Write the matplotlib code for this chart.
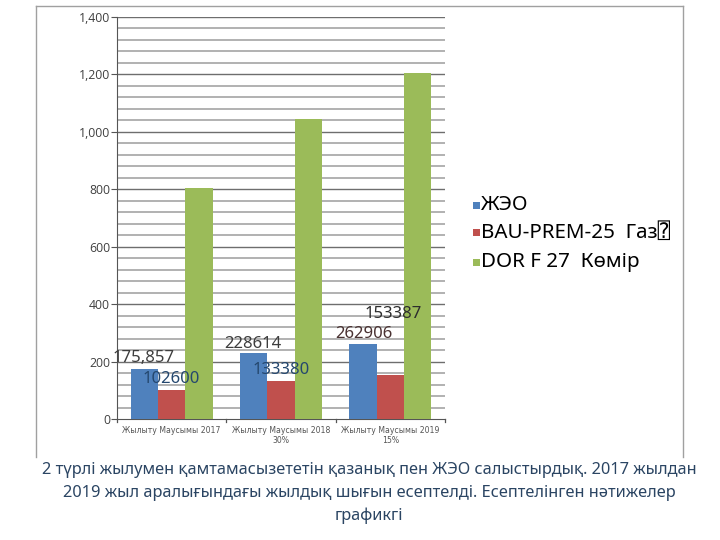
import matplotlib
matplotlib.use("Agg")
import matplotlib.pyplot as plt
import numpy as np

categories = ["Жылыту Маусымы 2017", "Жылыту Маусымы 2018\n30%", "Жылыту Маусымы 2019\n15%"]
series_names = ["ЖЭО", "BAU-PREM-25  Газ\u2370", "DOR F 27  Көмір"]
zheo = [175.857, 228.614, 262.906]
gas = [102.6, 133.38, 153.387]
coal = [805, 1045, 1205]

label_texts = ["175,857", "102600", "228614", "133380", "262906", "153387"]
label_vals = [212, 139, 261, 171, 296, 366]

BLUE = "#4F81BD"
RED = "#C0504D"
GREEN = "#9BBB59"
TEXT = "#404040"
CAPTION = "#2B4563"
NARROW = ["Liberation Sans Narrow", "Noto Sans", "DejaVu Sans"]

fig = plt.figure(figsize=(7.2, 5.4), dpi=100, facecolor="white")
ax = fig.add_axes([0.1625, 0.224, 0.4555, 0.7445])

x = np.arange(len(categories))
w = 0.25
colors = [BLUE, RED, GREEN]
for i, (vals, col) in enumerate(zip([zheo, gas, coal], colors)):
    ax.bar(x + (i - 1) * w, vals, width=w, color=col, zorder=3, label=series_names[i])

ax.set_xlim(-0.5, 2.5)
ax.set_ylim(0, 1400)

# gridlines: major every 200, minor every 40
for v in range(40, 1401, 40):
    if v % 200 == 0:
        ax.axhline(v, color="#6e6e6e", lw=1.0, zorder=1)
    else:
        ax.axhline(v, color="#ababab", lw=1.3, zorder=1)

ax.set_yticks(range(0, 1401, 200))
ax.set_yticklabels([f"{v:,}" for v in range(0, 1401, 200)], fontsize=8.8, color=TEXT,
                   family=["Open Sans", "DejaVu Sans"])
ax.tick_params(axis="y", length=4, color="#555555", pad=1)

ax.set_xticks(x)
ax.set_xticklabels(categories, fontsize=5.6, color="#555555", family=["DejaVu Sans"])
ax.tick_params(axis="x", length=0, pad=5)
for b in [-0.5, 0.5, 1.5, 2.5]:
    ax.plot([b, b], [0, -10], color="#555555", lw=0.9, clip_on=False, zorder=4)

for s in ["top", "right"]:
    ax.spines[s].set_visible(False)
ax.spines["left"].set_color("#555555")
ax.spines["bottom"].set_color("#555555")

# value labels
label_x = [0 - 0.26, 0 + 0.0, 1 - 0.26, 1 + 0.0, 2 - 0.24, 2 + 0.03]
label_colors = ["#3d3d3d", "#24476e", "#3d3d3d", "#24476e", "#4a3232", "#2d2d2d"]
for tx, lx, lv, lc in zip(label_texts, label_x, label_vals, label_colors):
    ax.text(lx, lv, tx, ha="center", va="center", fontsize=12, color=lc,
            family=NARROW, zorder=5)

# legend
leg_y = [205, 233, 262]
for name, col, yy in zip(series_names, colors, leg_y):
    fig.patches.append(plt.Rectangle((473 / 720, 1 - (yy + 3.5) / 540), 7 / 720, 7 / 540,
                                     transform=fig.transFigure, facecolor=col,
                                     edgecolor="none"))
    fig.text(481 / 720, 1 - yy / 540, name, fontsize=14.8, color="black", va="center",
             ha="left", family=NARROW + ["DejaVu Sans Mono"])

# frame lines
fig.add_artist(plt.Line2D([36 / 720, 683 / 720], [1 - 6 / 540, 1 - 6 / 540],
                          transform=fig.transFigure, color="#a0a0a0", lw=1))
fig.add_artist(plt.Line2D([36 / 720, 36 / 720], [1 - 6 / 540, 1 - 457 / 540],
                          transform=fig.transFigure, color="#a0a0a0", lw=1))
fig.add_artist(plt.Line2D([683 / 720, 683 / 720], [1 - 6 / 540, 1 - 457 / 540],
                          transform=fig.transFigure, color="#a0a0a0", lw=1))

caption = ["2 түрлі жылумен қамтамасызететін қазанық пен ЖЭО салыстырдық. 2017 жылдан",
           "2019 жыл аралығындағы жылдық шығын есептелді. Есептелінген нәтижелер",
           "графикгі"]
for i, line in enumerate(caption):
    fig.text(369 / 720, 1 - (470 + i * 23) / 540, line, ha="center", va="center", fontsize=11.8,
             color=CAPTION, family=NARROW)

fig.savefig("out.png", dpi=100, facecolor="white")
